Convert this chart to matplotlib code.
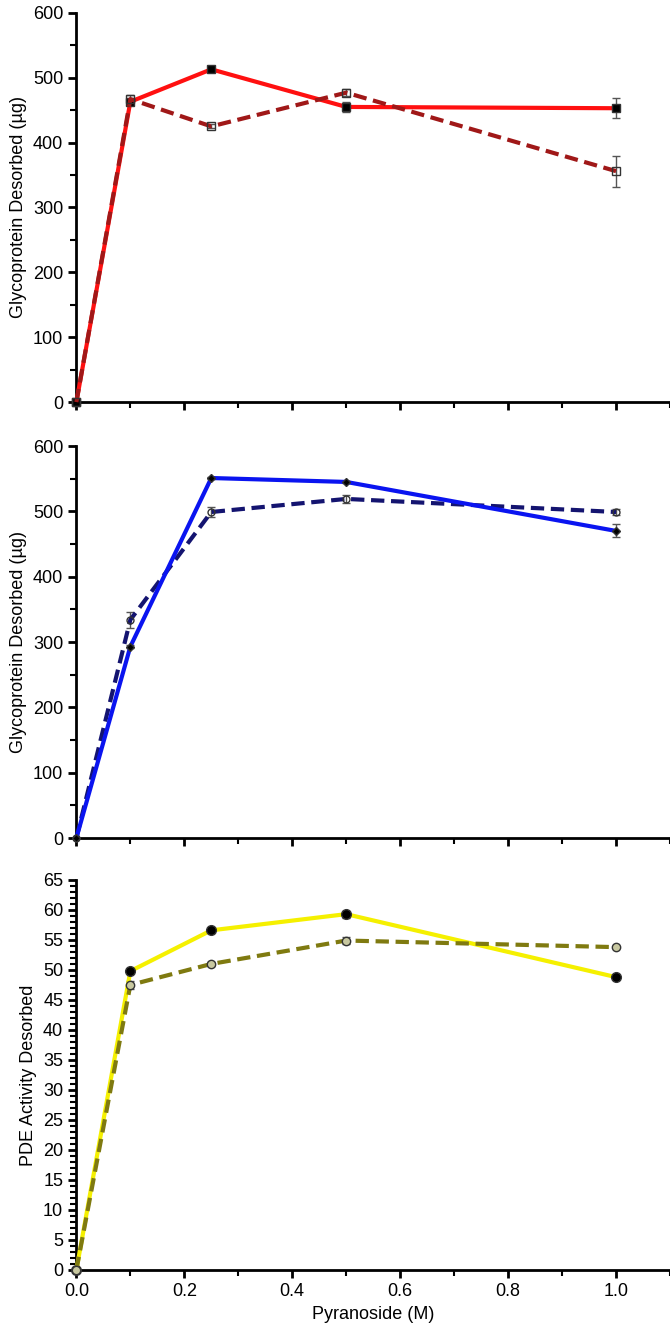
import matplotlib.pyplot as plt
from matplotlib.ticker import MultipleLocator

# Pyranoside concentration (M)
x = [0, 0.1, 0.25, 0.5, 1.0]

# top panel - glycoprotein, red series
red_solid = [0, 463, 513, 455, 453]
red_solid_err = [0, 4, 3, 8, 15]
red_dash = [0, 467, 425, 477, 356]
red_dash_err = [0, 6, 3, 5, 24]

# middle panel - glycoprotein, blue series
blue_solid = [0, 293, 551, 545, 470]
blue_solid_err = [0, 2, 1, 2, 10]
blue_dash = [0, 334, 499, 519, 499]
blue_dash_err = [0, 12, 8, 6, 5]

# bottom panel - PDE activity, yellow series
yel_solid = [0, 49.8, 56.6, 59.3, 48.8]
yel_solid_err = [0, 0.3, 0.2, 0.6, 0.2]
yel_dash = [0, 47.5, 51.0, 54.9, 53.8]
yel_dash_err = [0, 0.7, 0.3, 0.6, 0.2]

plt.rcParams['font.family'] = ['Liberation Sans', 'DejaVu Sans']

fig = plt.figure(figsize=(6.7, 13.27), dpi=100)
ax1 = fig.add_axes([0.114, 0.697, 0.886, 0.2933])
ax2 = fig.add_axes([0.114, 0.3685, 0.886, 0.2954])
ax3 = fig.add_axes([0.114, 0.043, 0.886, 0.2939])


def draw(ax, ys, es, color, mk, mfc, ms, dashed):
    ls = (0, (3.2, 1.6)) if dashed else '-'
    ax.errorbar(x, ys, yerr=es, color=color, lw=3, ls=ls, marker=mk,
                mfc=mfc, mec='#333333', ms=ms, ecolor='#555555',
                elinewidth=1, capsize=3, capthick=1, zorder=3,
                clip_on=False)


draw(ax1, red_solid, red_solid_err, '#ff1010', 's', 'black', 6, False)
draw(ax1, red_dash, red_dash_err, '#a01818', 's', 'none', 6, True)

draw(ax2, blue_dash, blue_dash_err, '#141470', 'o', 'none', 5, True)
draw(ax2, blue_solid, blue_solid_err, '#0a14f0', 'D', 'black', 4, False)

draw(ax3, yel_solid, yel_solid_err, '#f5f000', 'o', 'black', 7, False)
draw(ax3, yel_dash, yel_dash_err, '#7f7a10', 'o', '#c8c8a0', 6, True)

for ax in (ax1, ax2, ax3):
    ax.set_xlim(0, 1.1)
    ax.spines['top'].set_visible(False)
    ax.spines['right'].set_visible(False)
    ax.spines['left'].set_linewidth(2)
    ax.spines['bottom'].set_linewidth(2)
    ax.xaxis.set_major_locator(MultipleLocator(0.2))
    ax.xaxis.set_minor_locator(MultipleLocator(0.1))
    ax.tick_params(which='major', width=2, length=6, labelsize=13)
    ax.tick_params(which='minor', width=1.5, length=4)

for ax in (ax1, ax2):
    ax.set_ylim(0, 600)
    ax.yaxis.set_major_locator(MultipleLocator(100))
    ax.yaxis.set_minor_locator(MultipleLocator(50))
    ax.set_ylabel('Glycoprotein Desorbed (µg)', fontsize=13)
    ax.tick_params(axis='x', labelbottom=False)

ax3.set_ylim(0, 65)
ax3.yaxis.set_major_locator(MultipleLocator(5))
ax3.yaxis.set_minor_locator(MultipleLocator(1))
ax3.set_ylabel('PDE Activity Desorbed', fontsize=13)
ax3.set_xlabel('Pyranoside (M)', fontsize=13)
ax3.xaxis.set_major_formatter(plt.FuncFormatter(lambda v, p: f'{v:.1f}'))

fig.savefig('out.png', dpi=100)
